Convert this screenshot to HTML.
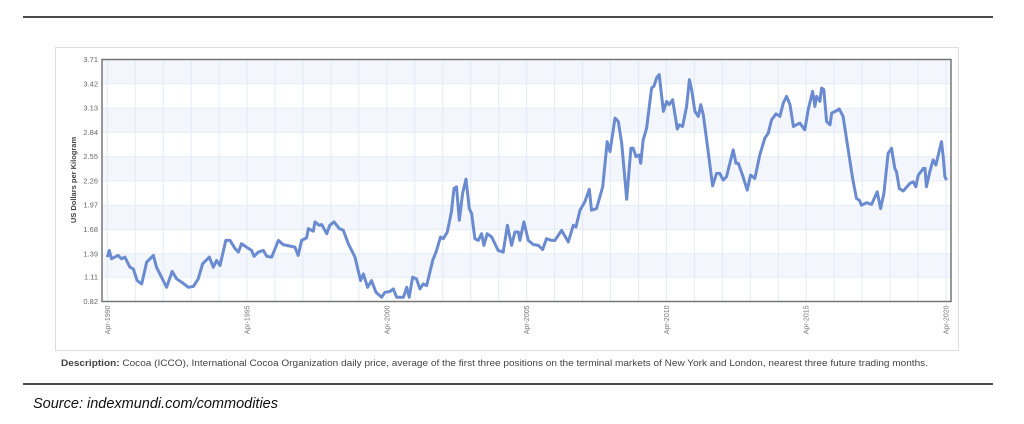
<!DOCTYPE html>
<html><head><meta charset="utf-8"><style>
html,body{margin:0;padding:0;background:#fff;width:1024px;height:424px;overflow:hidden;font-family:"Liberation Sans",Arial,sans-serif}
</style></head><body>
<svg width="1024" height="424" xmlns="http://www.w3.org/2000/svg">
<line x1="23" y1="17" x2="993" y2="17" stroke="#111" stroke-width="1.5"/>
<rect x="55.5" y="47.5" width="903" height="303" fill="#fff" stroke="#ddd"/>
<g id="bands"></g>
<g id="grid"></g>
<g id="yt"></g>
<g id="xt"></g>
<text transform="translate(76,180) rotate(-90)" text-anchor="middle" font-size="7.5" font-weight="bold" fill="#444">US Dollars per Kilogram</text>
<path id="line" fill="none" stroke="#6b8bd1" stroke-width="3" stroke-linejoin="round"/>
<rect x="102" y="59.5" width="849" height="242" fill="none" stroke="#777" stroke-width="1.5"/>
<text x="61" y="366" font-size="9" fill="#444" textLength="867" lengthAdjust="spacingAndGlyphs"><tspan font-weight="bold">Description:</tspan> Cocoa (ICCO), International Cocoa Organization daily price, average of the first three positions on the terminal markets of New York and London, nearest three future trading months.</text>
<line x1="23" y1="384" x2="993" y2="384" stroke="#111" stroke-width="1.5"/>
<text x="33" y="408" font-size="14.5" font-style="italic" fill="#111">Source: indexmundi.com/commodities</text>
</svg>
<script>
const yTicks=[0.82,1.11,1.39,1.68,1.97,2.26,2.55,2.84,3.13,3.42,3.71];
const xTickYears=[1990,1995,2000,2005,2010,2015,2020];
const xTickLabels=["Apr-1990","Apr-1995","Apr-2000","Apr-2005","Apr-2010","Apr-2015","Apr-2020"];
const dates=[1990.25,1990.32,1990.40,1990.52,1990.64,1990.76,1990.88,1991.06,1991.18,1991.32,1991.48,1991.66,1991.90,1992.01,1992.19,1992.37,1992.57,1992.73,1992.91,1993.15,1993.33,1993.50,1993.66,1993.90,1994.04,1994.16,1994.28,1994.49,1994.64,1994.82,1994.94,1995.05,1995.23,1995.41,1995.50,1995.65,1995.83,1995.95,1996.13,1996.37,1996.54,1996.96,1997.08,1997.20,1997.38,1997.44,1997.62,1997.68,1997.83,1997.92,1998.10,1998.21,1998.36,1998.55,1998.69,1998.87,1999.11,1999.31,1999.41,1999.56,1999.70,1999.86,2000.06,2000.18,2000.36,2000.48,2000.60,2000.84,2000.96,2001.05,2001.17,2001.31,2001.43,2001.55,2001.67,2001.89,2002.03,2002.17,2002.27,2002.41,2002.56,2002.65,2002.74,2002.84,2002.96,2003.08,2003.20,2003.28,2003.40,2003.52,2003.64,2003.72,2003.84,2004.00,2004.23,2004.41,2004.56,2004.71,2004.83,2004.95,2005.01,2005.15,2005.31,2005.49,2005.67,2005.82,2005.96,2006.14,2006.26,2006.50,2006.74,2006.92,2007.01,2007.16,2007.33,2007.49,2007.57,2007.75,2007.97,2008.13,2008.23,2008.41,2008.53,2008.65,2008.83,2008.98,2009.06,2009.16,2009.28,2009.33,2009.42,2009.54,2009.72,2009.80,2009.90,2009.99,2010.14,2010.26,2010.35,2010.47,2010.64,2010.71,2010.83,2010.97,2011.07,2011.15,2011.27,2011.39,2011.48,2011.57,2011.75,2011.90,2012.04,2012.16,2012.28,2012.40,2012.64,2012.74,2012.82,2012.97,2013.14,2013.26,2013.41,2013.59,2013.77,2013.89,2014.01,2014.17,2014.31,2014.43,2014.55,2014.67,2014.79,2014.90,2015.02,2015.20,2015.32,2015.48,2015.56,2015.62,2015.74,2015.80,2015.88,2015.98,2016.10,2016.16,2016.34,2016.43,2016.57,2016.75,2016.91,2017.05,2017.15,2017.23,2017.41,2017.59,2017.79,2017.91,2018.03,2018.18,2018.30,2018.42,2018.48,2018.58,2018.72,2018.96,2019.08,2019.17,2019.26,2019.44,2019.50,2019.55,2019.67,2019.79,2019.89,2020.09,2020.15,2020.21,2020.27];
const prices=[1.35,1.43,1.33,1.35,1.37,1.33,1.35,1.23,1.21,1.07,1.03,1.29,1.37,1.23,1.11,0.99,1.18,1.09,1.05,0.99,1.00,1.09,1.27,1.35,1.23,1.31,1.25,1.55,1.55,1.45,1.41,1.51,1.47,1.43,1.36,1.41,1.43,1.36,1.35,1.55,1.50,1.47,1.37,1.55,1.58,1.69,1.66,1.77,1.73,1.74,1.63,1.73,1.77,1.69,1.67,1.51,1.35,1.07,1.15,0.99,1.07,0.93,0.87,0.93,0.94,0.97,0.87,0.87,0.99,0.87,1.11,1.09,0.97,1.03,1.01,1.31,1.43,1.59,1.57,1.65,1.89,2.17,2.19,1.79,2.11,2.28,1.93,1.87,1.57,1.55,1.63,1.49,1.63,1.59,1.43,1.41,1.73,1.49,1.65,1.65,1.55,1.77,1.55,1.50,1.49,1.44,1.57,1.55,1.55,1.67,1.53,1.73,1.71,1.91,2.01,2.16,1.91,1.93,2.19,2.73,2.61,3.01,2.97,2.71,2.04,2.65,2.65,2.55,2.57,2.47,2.75,2.89,3.37,3.39,3.49,3.53,3.09,3.21,3.17,3.23,2.88,2.93,2.91,3.15,3.47,3.35,3.09,3.03,3.17,3.05,2.59,2.20,2.35,2.35,2.27,2.31,2.63,2.47,2.47,2.33,2.15,2.33,2.29,2.57,2.77,2.83,2.99,3.06,3.03,3.19,3.27,3.17,2.91,2.93,2.95,2.87,3.11,3.33,3.15,3.27,3.21,3.37,3.35,2.97,2.93,3.07,3.10,3.12,3.03,2.63,2.29,2.05,2.03,1.97,2.00,1.98,2.13,1.93,2.11,2.59,2.65,2.41,2.37,2.17,2.14,2.23,2.25,2.19,2.33,2.41,2.41,2.19,2.37,2.51,2.45,2.73,2.55,2.31,2.27];

const NS="http://www.w3.org/2000/svg";
const PL=102,PR=951,PT=59.5,PB=301.5;
const yMin=0.82,yMax=3.71;
const x0=1990.25,x1=2020.25,xPix0=107.3,xPix1=946;
function xs(t){return xPix0+(t-x0)/(x1-x0)*(xPix1-xPix0);}
function ys(v){return PB-(v-yMin)/(yMax-yMin)*(PB-PT);}
function mk(tag,attrs,parent){const e=document.createElementNS(NS,tag);for(const k in attrs)e.setAttribute(k,attrs[k]);parent.appendChild(e);return e;}
const bands=document.getElementById('bands'),grid=document.getElementById('grid'),yt=document.getElementById('yt'),xt=document.getElementById('xt');
mk('rect',{x:PL,y:PT,width:PR-PL,height:PB-PT,fill:'#fff'},bands);
for(let i=0;i<yTicks.length-1;i++){
  if(i%2===1){
    const r=mk('rect',{x:PL,y:ys(yTicks[i+1]),width:PR-PL,height:ys(yTicks[i])-ys(yTicks[i+1]),fill:'#f3f6fc'},bands);
    
    
  }
}
for(let yr=1990;yr<=2020;yr++){
  const l=mk('line',{x1:xs(yr+0.25),x2:xs(yr+0.25),y1:PT,y2:PB,stroke:'#e3eaf7','stroke-width':1},grid);
  
  
}
yTicks.forEach(v=>{
  const g=mk('line',{x1:PL,x2:PR,y1:ys(v),y2:ys(v),stroke:'#e6ecf7','stroke-width':1},grid);
  
  
  const t=mk('text',{x:PL-4,y:ys(v)+2.5,'text-anchor':'end','font-size':7.5,fill:'#666'},yt);
  t.textContent=v.toFixed(2);
  
  
});
xTickYears.forEach((yr,i)=>{
  const x=xs(yr+0.25);
  const t=mk('text',{transform:'translate('+(x+2.5)+','+(PB+4)+') rotate(-90)','text-anchor':'end','font-size':7,fill:'#777'},xt);
  t.textContent=xTickLabels[i];
  
  
});
let d='';
dates.forEach((t,i)=>{d+=(i?'L':'M')+xs(t).toFixed(1)+','+ys(prices[i]).toFixed(1);});
document.getElementById('line').setAttribute('d',d);
</script>
</body></html>
